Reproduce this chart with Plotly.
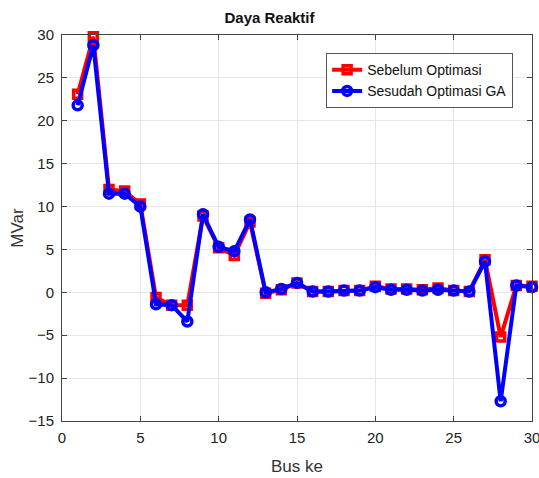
import plotly.graph_objects as go

bus = list(range(1, 31))
sebelum = [23.1, 29.8, 12.0, 11.8, 10.3, -0.6, -1.5, -1.5, 8.9, 5.2,
           4.3, 8.2, -0.1, 0.3, 1.1, 0.1, 0.1, 0.2, 0.2, 0.7,
           0.4, 0.4, 0.3, 0.5, 0.2, 0.1, 3.8, -5.2, 0.8, 0.7]
sesudah = [21.8, 28.8, 11.5, 11.5, 10.0, -1.4, -1.5, -3.4, 9.1, 5.3,
           4.8, 8.5, 0.0, 0.4, 1.1, 0.1, 0.1, 0.2, 0.2, 0.6,
           0.3, 0.3, 0.2, 0.3, 0.2, 0.1, 3.6, -12.7, 0.8, 0.6]

font = "Liberation Sans, Arial, sans-serif"

fig = go.Figure()
fig.add_trace(go.Scatter(x=bus, y=sebelum, mode="lines+markers", name="Sebelum Optimasi",
                         line=dict(color="#ff0000", width=4),
                         marker=dict(symbol="square-open", size=8, color="#ff0000",
                                     line=dict(width=3.5, color="#ff0000")),
                         cliponaxis=False))
fig.add_trace(go.Scatter(x=bus, y=sesudah, mode="lines+markers", name="Sesudah Optimasi GA",
                         line=dict(color="#0000ff", width=4),
                         marker=dict(symbol="circle-open", size=9, color="#0000ff",
                                     line=dict(width=3.5, color="#0000ff")),
                         cliponaxis=False))

axis_common = dict(showline=True, linecolor="#444444", linewidth=1, mirror="ticks",
                   ticks="inside", ticklen=5, tickcolor="#444444", automargin=False,
                   ticklabeloverflow="allow",
                   showgrid=True, gridcolor="#e6e6e6", gridwidth=1, zeroline=False,
                   tickfont=dict(family=font, size=15, color="#222222"))

fig.update_layout(
    width=539, height=478,
    margin=dict(l=62, r=7, t=35, b=57),
    paper_bgcolor="white", plot_bgcolor="white",
    title=dict(text="<b>Daya Reaktif</b>", x=0.5, xanchor="center", y=0.962, yanchor="middle",
               font=dict(family=font, size=15, color="#111111")),
    xaxis=dict(range=[0, 30], dtick=5, ticklabelstandoff=3,
               title=dict(text="Bus ke", font=dict(family=font, size=17, color="#333333"), standoff=15),
               **axis_common),
    yaxis=dict(range=[-15, 30], dtick=5, ticklabelstandoff=4,
               title=dict(text="MVar", font=dict(family=font, size=17, color="#333333"), standoff=0),
               **axis_common),
    legend=dict(x=0.562, y=0.953, xanchor="left", yanchor="top",
                bgcolor="white", bordercolor="#555555", borderwidth=1,
                font=dict(family=font, size=14, color="#111111"),
                tracegroupgap=0, itemwidth=30),
    showlegend=True,
)

fig.write_html("out.html", config={"displayModeBar": False},
               post_script="document.body.style.margin='0';document.body.style.overflow='hidden';")
